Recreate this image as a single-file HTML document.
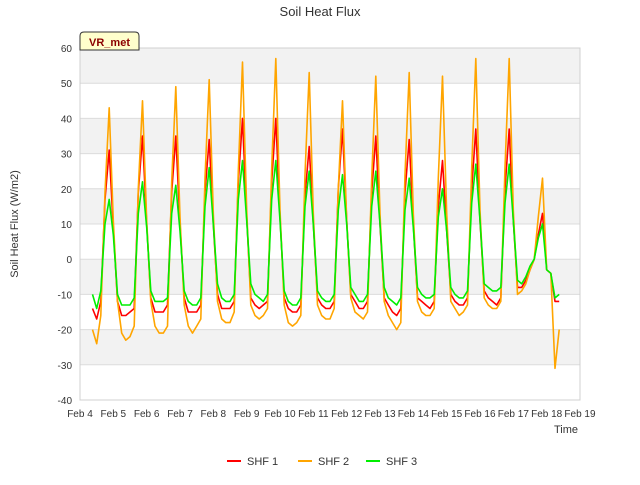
<!DOCTYPE html>
<html><head><meta charset="utf-8"><style>
body{margin:0;background:#fff;font-family:"Liberation Sans",sans-serif}
svg text{font-family:"Liberation Sans",sans-serif}
</style></head><body>
<svg id="c" width="640" height="480" viewBox="0 0 640 480">
<text x="320" y="16" text-anchor="middle" font-size="13" fill="#333">Soil Heat Flux</text>
<text transform="translate(18,224) rotate(-90)" text-anchor="middle" font-size="11" fill="#333">Soil Heat Flux (W/m2)</text>
<text x="566" y="433" text-anchor="middle" font-size="11" fill="#333">Time</text>
<g id="grid"></g><g id="ticks"></g><g id="series"></g>
<g>
<path d="M80,50 L80,36 Q80,32 84,32 L135,32 Q139,32 139,36 L139,50 Z" fill="#ffffcc" stroke="#333" stroke-width="1"/>
<text x="109.5" y="46" text-anchor="middle" font-size="11" font-weight="bold" fill="#8b0000">VR_met</text>
</g>
<g>
<g><line x1="227" y1="461" x2="241" y2="461" stroke="#ff0000" stroke-width="2"/><text x="247" y="465" font-size="11" fill="#333">SHF 1</text></g>
<g><line x1="298" y1="461" x2="312" y2="461" stroke="#ffa500" stroke-width="2"/><text x="318" y="465" font-size="11" fill="#333">SHF 2</text></g>
<g><line x1="366" y1="461" x2="380" y2="461" stroke="#00ee00" stroke-width="2"/><text x="386" y="465" font-size="11" fill="#333">SHF 3</text></g>
</g>
</svg>
<script>
const startDay = 4 + 9/24;
const stepHours = 3;
const shf1 = [-14,-17,-12,17,31,
9,-12,-16,-16,-15,-14,19,35,
10,-11,-15,-15,-15,-13,19,35,
10,-11,-15,-15,-15,-13,19,34,
10,-10,-14,-14,-14,-12,22,40,
12,-11,-13,-14,-13,-12,22,40,
12,-11,-14,-15,-15,-13,18,32,
10,-11,-13,-14,-14,-12,20,37,
11,-10,-12,-14,-14,-12,19,35,
10,-11,-13,-15,-16,-14,19,34,
10,-11,-12,-13,-14,-12,15,28,
8,-10,-12,-13,-13,-11,20,37,
11,-9,-11,-12,-13,-11,20,37,
11,-8,-8,-6,-3,0,7,13,
-3,-4,-12,-12];
const shf2 = [-20,-24,-16,19,43,
11,-12,-21,-23,-22,-19,20,45,
11,-12,-19,-21,-21,-19,22,49,
12,-13,-19,-21,-19,-17,23,51,
13,-12,-17,-18,-18,-15,25,56,
14,-13,-16,-17,-16,-14,26,57,
14,-13,-18,-19,-18,-16,24,53,
13,-13,-16,-17,-17,-14,20,45,
11,-11,-15,-16,-17,-15,23,52,
13,-12,-16,-18,-20,-18,24,53,
13,-12,-15,-16,-16,-14,23,52,
13,-12,-14,-16,-15,-13,26,57,
14,-11,-13,-14,-14,-12,26,57,
14,-10,-9,-7,-3,0,12,23,
-3,-4,-31,-20];
const shf3 = [-10,-14,-9,10,17,
7,-10,-13,-13,-13,-11,13,22,
9,-9,-12,-12,-12,-11,13,21,
8,-9,-12,-13,-13,-11,15,26,
10,-7,-11,-12,-12,-10,17,28,
11,-7,-10,-11,-12,-10,17,28,
11,-9,-12,-13,-13,-11,15,25,
10,-9,-11,-12,-12,-10,14,24,
10,-8,-10,-12,-12,-10,15,25,
10,-8,-11,-12,-13,-11,14,23,
9,-8,-10,-11,-11,-10,12,20,
8,-8,-10,-11,-11,-9,16,27,
11,-7,-8,-9,-9,-8,16,27,
11,-6,-7,-5,-2,0,6,10,
-3,-4,-11,-10];
const yTicks = [-40,-30,-20,-10,0,10,20,30,40,50,60];
const xTickDays = [4,5,6,7,8,9,10,11,12,13,14,15,16,17,18,19];
const xTickLabels = ["Feb 4","Feb 5","Feb 6","Feb 7","Feb 8","Feb 9","Feb 10","Feb 11","Feb 12","Feb 13","Feb 14","Feb 15","Feb 16","Feb 17","Feb 18","Feb 19"];

const NS="http://www.w3.org/2000/svg";
const L=80,R=580,T=48,B=400;
const xs=d=>L+(d-4)/15*(R-L);
const ys=v=>T+(60-v)/100*(B-T);
function mk(tag,attrs,parent){const e=document.createElementNS(NS,tag);for(const k in attrs)e.setAttribute(k,attrs[k]);parent.appendChild(e);return e;}
const grid=document.getElementById('grid');
for(let i=0;i<yTicks.length-1;i++){
  if(i%2===1){
    const r=mk('rect',{x:L,y:ys(yTicks[i+1]),width:R-L,height:ys(yTicks[i])-ys(yTicks[i+1]),fill:'#f2f2f2'},grid);
    
    
  }
}
for(const v of yTicks){
  const l=mk('line',{x1:L,x2:R,y1:ys(v),y2:ys(v),stroke:'#dcdcdc','stroke-width':1},grid);
  
  
}
const fr=mk('rect',{x:L,y:T,width:R-L,height:B-T,fill:'none',stroke:'#d0d0d0'},grid);


const ticks=document.getElementById('ticks');
yTicks.forEach(v=>{
  const t=mk('text',{x:72,y:ys(v)+4,'text-anchor':'end','font-size':10,fill:'#333'},ticks);
  t.textContent=v;
  
  
});
xTickDays.forEach((d,i)=>{
  const t=mk('text',{x:xs(d),y:417,'text-anchor':'middle','font-size':10,fill:'#333'},ticks);
  t.textContent=xTickLabels[i];
  
  
});
const sg=document.getElementById('series');
[[shf1,'#ff0000','series-shf1'],[shf2,'#ffa500','series-shf2'],[shf3,'#00ee00','series-shf3']].forEach(([arr,col,name])=>{
  const pts=arr.map((v,i)=>xs(startDay+i*stepHours/24).toFixed(1)+','+ys(v).toFixed(1)).join(' ');
  const p=mk('polyline',{points:pts,fill:'none',stroke:col,'stroke-width':1.6,'stroke-linejoin':'round'},sg);
  
  
});
</script>
</body></html>
